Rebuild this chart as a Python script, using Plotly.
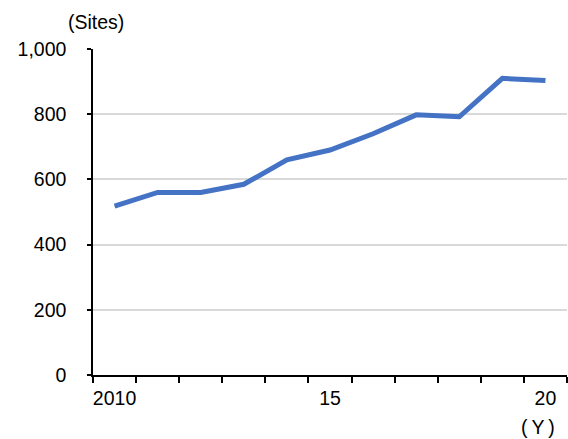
import plotly.graph_objects as go

# Number of sites per year
years = [2010, 2011, 2012, 2013, 2014, 2015, 2016, 2017, 2018, 2019, 2020]
sites = [518, 560, 560, 585, 660, 690, 740, 798, 792, 910, 903]

x_tick_vals = [2010, 2015, 2020]
x_tick_text = ["2010", "15", "20"]
y_tick_vals = [0, 200, 400, 600, 800, 1000]
y_tick_text = ["0", "200", "400", "600", "800", "1,000"]

font = "Liberation Sans, Arial, sans-serif"
fsize = 19.5

L, R, T, B = 93, 1, 49, 64
W, H = 568, 439

fig = go.Figure()
fig.add_trace(go.Scatter(
    x=years, y=sites, mode="lines",
    line=dict(color="#4472C4", width=5),
    hoverinfo="skip",
))

fig.update_layout(
    width=W, height=H,
    margin=dict(l=L, r=R, t=T, b=B),
    paper_bgcolor="white", plot_bgcolor="white",
    showlegend=False,
    font=dict(family=font, size=fsize, color="black"),
    xaxis=dict(
        range=[2009.5, 2020.5],
        tickmode="array", tickvals=x_tick_vals, ticktext=x_tick_text,
        ticks="", showgrid=False, zeroline=False,
        showline=True, linecolor="black", linewidth=1.5,
        ticklabelstandoff=5,
        minor=dict(tickmode="linear", tick0=2009.5, dtick=1,
                   ticks="outside", ticklen=6, tickwidth=1.5,
                   tickcolor="black", showgrid=False),
    ),
    yaxis=dict(
        range=[0, 1000],
        tickmode="array", tickvals=y_tick_vals, ticktext=y_tick_text,
        ticks="outside", ticklen=4, tickwidth=1.5, tickcolor="black",
        showline=True, linecolor="black", linewidth=1.5,
        showgrid=True, gridcolor="#d9d9d9", gridwidth=1.5,
        zeroline=False,
        ticklabelstandoff=17,
    ),
)


def px_to_paper(px, py):
    """Convert page pixel coordinates to paper coordinates of the plot area."""
    return (px - L) / (W - L - R), (H - B - py) / (H - T - B)


# Unit labels for the two axes
sx, sy = px_to_paper(96, 22)
yx, yy = px_to_paper(538, 427)
fig.add_annotation(text="(Sites)", x=sx, y=sy, xref="paper", yref="paper",
                   xanchor="center", yanchor="middle", showarrow=False,
                   font=dict(size=fsize))
fig.add_annotation(text="(\u2009Y\u2009)", x=yx, y=yy, xref="paper", yref="paper",
                   xanchor="center", yanchor="middle", showarrow=False,
                   font=dict(size=fsize))

fig.write_html("out.html")
